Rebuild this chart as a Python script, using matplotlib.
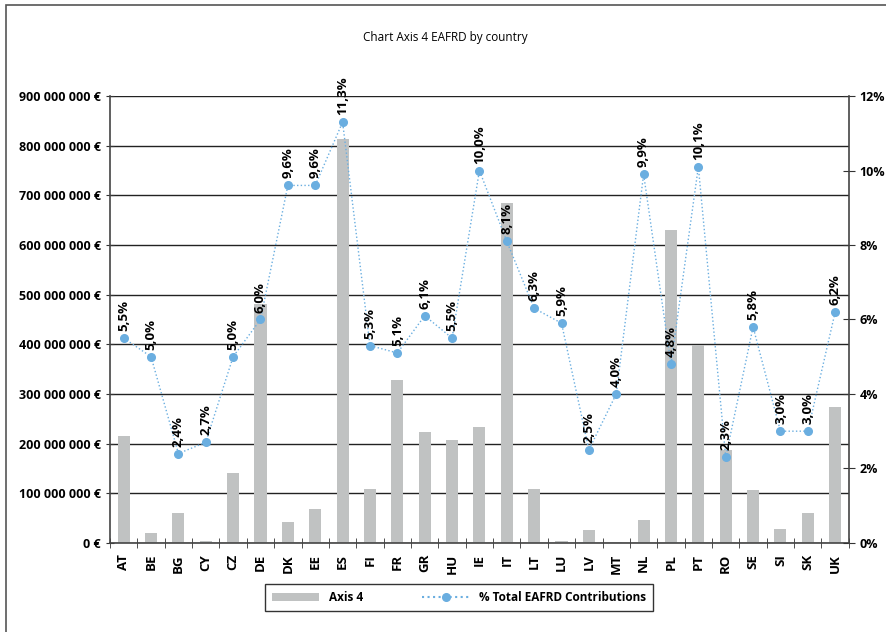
import matplotlib
matplotlib.use("Agg")
import matplotlib.pyplot as plt
from matplotlib.ticker import FuncFormatter, FixedLocator, MultipleLocator
from matplotlib.lines import Line2D
from matplotlib.patches import Patch, Rectangle
import numpy as np

countries = ["AT", "BE", "BG", "CY", "CZ", "DE", "DK", "EE", "ES", "FI", "FR", "GR", "HU", "IE",
             "IT", "LT", "LU", "LV", "MT", "NL", "PL", "PT", "RO", "SE", "SI", "SK", "UK"]
axis4 = [215e6, 20e6, 61e6, 3e6, 140e6, 481e6, 43e6, 69e6, 813e6, 109e6, 328e6, 224e6, 208e6, 234e6,
         684e6, 109e6, 4e6, 25e6, 2e6, 47e6, 630e6, 398e6, 188e6, 106e6, 28e6, 60e6, 274e6]
pct = [5.5, 5.0, 2.4, 2.7, 5.0, 6.0, 9.6, 9.6, 11.3, 5.3, 5.1, 6.1, 5.5, 10.0,
       8.1, 6.3, 5.9, 2.5, 4.0, 9.9, 4.8, 10.1, 2.3, 5.8, 3.0, 3.0, 6.2]
pct_labels = ["5,5%", "5,0%", "2,4%", "2,7%", "5,0%", "6,0%", "9,6%", "9,6%", "11,3%", "5,3%", "5,1%",
              "6,1%", "5,5%", "10,0%", "8,1%", "6,3%", "5,9%", "2,5%", "4,0%", "9,9%", "4,8%", "10,1%",
              "2,3%", "5,8%", "3,0%", "3,0%", "6,2%"]
title = "Chart Axis 4 EAFRD by country"
bar_label = "Axis 4"
line_label = "% Total EAFRD Contributions"

plt.rcParams['font.family'] = ['Open Sans', 'DejaVu Sans']

fig = plt.figure(figsize=(8.87, 6.32), dpi=100)
ax = fig.add_axes([0.124, 0.141, 0.833, 0.707])
ax2 = ax.twinx()

x = np.arange(len(countries))
bar_color = '#c0c2c2'
line_color = '#6aaee0'

ax.set_axisbelow(True)
ax.bar(x, axis4, width=0.44, color=bar_color, zorder=2)
ax.set_ylim(0, 900e6)
ax.set_xlim(-0.5, len(countries) - 0.5)
ax.yaxis.set_major_locator(MultipleLocator(100e6))
ax.yaxis.set_major_formatter(FuncFormatter(lambda v, p: ("{:,.0f}".format(v).replace(",", " ") + " €")))
ax.grid(axis='y', color='#222222', linewidth=1.0, zorder=0)
ax.set_xticks(x)
ax.set_xticklabels(countries, rotation=90, fontweight='bold', fontsize=9.5)
ax.xaxis.set_minor_locator(FixedLocator(np.arange(-0.5, len(countries), 1.0)))
ax.tick_params(axis='x', which='major', length=0, pad=8)
ax.tick_params(axis='x', which='minor', length=7, direction='inout', color='#333333')
ax.tick_params(axis='y', length=6, direction='inout', color='#333333', labelsize=9)
for lab in ax.get_yticklabels():
    lab.set_fontweight('bold')
for s in ['left', 'bottom']:
    ax.spines[s].set_color('#444444')
    ax.spines[s].set_linewidth(1.2)
ax.spines['top'].set_visible(False)
ax.spines['right'].set_visible(False)

ax2.plot(x, pct, linestyle=':', color=line_color, linewidth=1.0, marker='o', markersize=5.5,
         markeredgecolor=line_color, markerfacecolor=line_color, zorder=3)
ax2.set_ylim(0, 12)
ax2.yaxis.set_major_locator(MultipleLocator(2))
ax2.yaxis.set_major_formatter(FuncFormatter(lambda v, p: "{:.0f}%".format(v)))
ax2.tick_params(axis='y', length=8, direction='inout', color='#333333', labelsize=9)
for lab in ax2.get_yticklabels():
    lab.set_fontweight('bold')
for s in ['top', 'left', 'bottom']:
    ax2.spines[s].set_visible(False)
ax2.spines['right'].set_color('#444444')
ax2.spines['right'].set_linewidth(1.2)

for xi, v, t in zip(x, pct, pct_labels):
    ax2.annotate(t, (xi, v), xytext=(0, 5), textcoords='offset points', rotation=90,
                 ha='center', va='bottom', fontsize=9.5, fontweight='bold', color='black', zorder=4)

fig.text(0.502, 0.941, title, ha='center', va='center', fontsize=8.5)

handles = [Patch(facecolor=bar_color, edgecolor='none', label=bar_label),
           Line2D([0], [0], color=line_color, linestyle=':', marker='o', markersize=5.5,
                  markerfacecolor=line_color, markeredgecolor=line_color, label=line_label)]
leg = fig.legend(handles=handles, loc='center', bbox_to_anchor=(0.5175, 0.054), ncol=2,
                 frameon=True, fancybox=False, edgecolor='black', prop={'weight': 'bold', 'size': 8.5},
                 handlelength=4.0, columnspacing=5.0, borderpad=0.6, borderaxespad=0)
leg.get_frame().set_linewidth(1.0)

fig.patches.append(Rectangle((6 / 887, -0.1), 1.2, 1.1 - 5 / 632, transform=fig.transFigure,
                             fill=False, edgecolor='#555555', linewidth=1.2))

fig.savefig("out.png", dpi=100)
